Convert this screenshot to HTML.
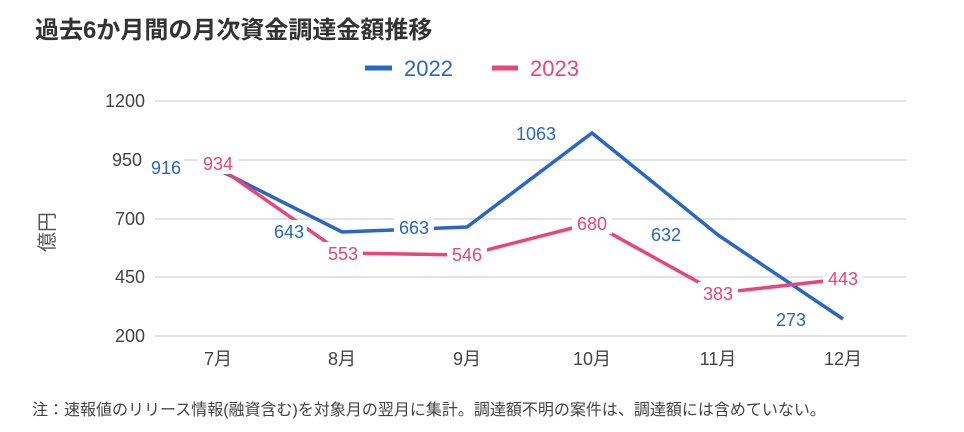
<!DOCTYPE html>
<html><head><meta charset="utf-8"><style>
body{margin:0;background:#fff;width:964px;height:427px;overflow:hidden}
svg text{font-family:"Liberation Sans","Noto Sans CJK JP",sans-serif}
</style></head><body>
<svg width="964" height="427" xmlns="http://www.w3.org/2000/svg">
<text x="35" y="38" font-size="24" font-weight="bold" fill="#333">過去6か月間の月次資金調達金額推移</text>
<line x1="365" y1="68" x2="392" y2="68" stroke="#2a66c6" stroke-width="5"/>
<text x="404" y="76" font-size="22" fill="#2a66c6">2022</text>
<line x1="492" y1="68" x2="518" y2="68" stroke="#e8457a" stroke-width="5"/>
<text x="530" y="76" font-size="22" fill="#e8457a">2023</text>
<g stroke="#d9d9d9" stroke-width="1.5">
<line x1="155" y1="101" x2="906" y2="101"/><line x1="155" y1="160" x2="906" y2="160"/>
<line x1="155" y1="219" x2="906" y2="219"/><line x1="155" y1="277" x2="906" y2="277"/>
<line x1="155" y1="336" x2="906" y2="336"/></g>
<g font-size="18" fill="#444" text-anchor="end">
<text x="145" y="107">1200</text><text x="142" y="166">950</text><text x="145" y="225">700</text>
<text x="145" y="283">450</text><text x="145" y="342">200</text></g>
<text transform="translate(54,232) rotate(-90)" font-size="20" fill="#555" text-anchor="middle">億円</text>
<g font-size="18" fill="#444" text-anchor="middle">
<text x="218" y="365">7月</text><text x="342" y="365">8月</text><text x="467" y="365">9月</text>
<text x="592" y="365">10月</text><text x="718" y="365">11月</text><text x="843" y="365">12月</text></g>
<polyline points="223,172 342,232 467,227 592,133 718,235 843,319" fill="none" stroke="#2a66c6" stroke-width="3.5"/>
<polyline points="223,170 342,253 467,255 592,223 718,293 843,279" fill="none" stroke="#e8457a" stroke-width="3.5"/>
<g font-size="18" text-anchor="middle">
<g fill="#fff"><rect x="146" y="156" width="38" height="22"/><rect x="198" y="152" width="40" height="22"/>
<rect x="267" y="220" width="40" height="22"/><rect x="323" y="242" width="40" height="22"/>
<rect x="394" y="216" width="40" height="22"/><rect x="447" y="243" width="40" height="22"/>
<rect x="509" y="122" width="52" height="22"/><rect x="572" y="212" width="40" height="22"/>
<rect x="646" y="223" width="40" height="22"/><rect x="698" y="282" width="40" height="22"/>
<rect x="771" y="308" width="40" height="22"/><rect x="823" y="267" width="40" height="22"/></g>
<g fill="#2a66c6"><text x="166" y="174">916</text><text x="289" y="238">643</text><text x="414" y="234">663</text>
<text x="536" y="140">1063</text><text x="666" y="241">632</text><text x="791" y="326">273</text></g>
<g fill="#e8457a"><text x="218" y="170">934</text><text x="343" y="260">553</text><text x="467" y="261">546</text>
<text x="592" y="230">680</text><text x="718" y="300">383</text><text x="843" y="285">443</text></g></g>
<text x="32" y="415" font-size="16" fill="#444">注：速報値のリリース情報(融資含む)を対象月の翌月に集計。調達額不明の案件は、調達額には含めていない。</text>
</svg>
</body></html>
